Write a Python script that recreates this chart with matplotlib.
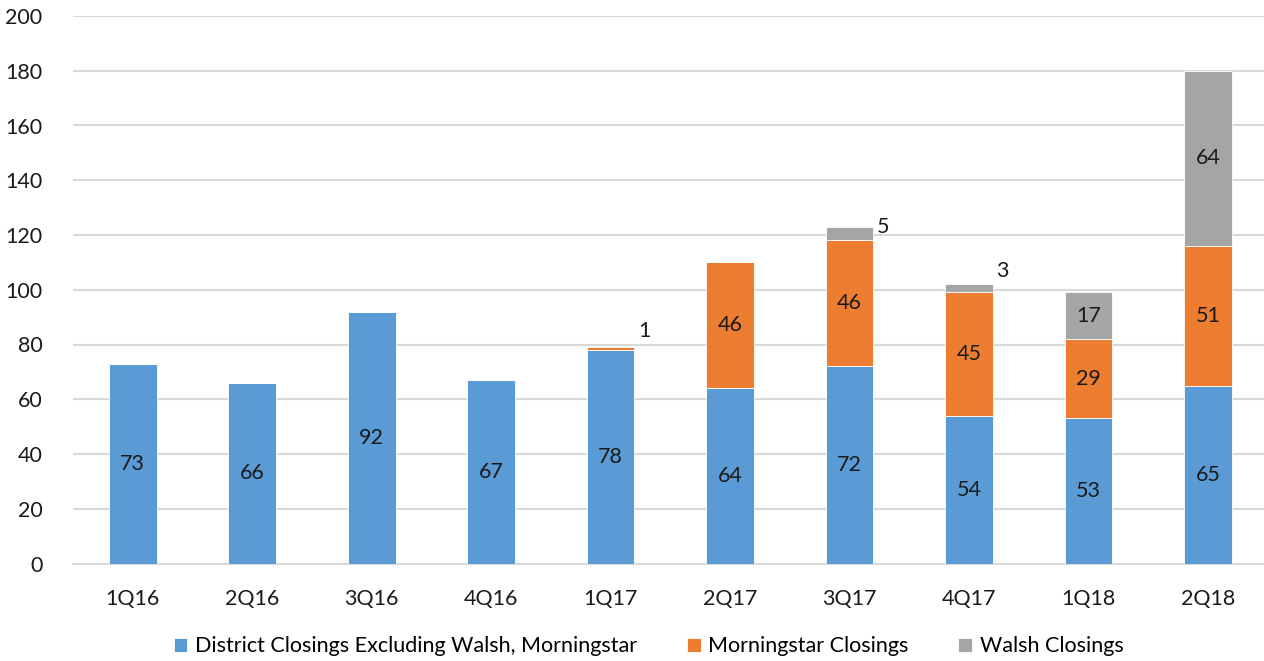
import matplotlib.pyplot as plt
import numpy as np

quarters = ['1Q16', '2Q16', '3Q16', '4Q16', '1Q17', '2Q17', '3Q17', '4Q17', '1Q18', '2Q18']
district = [73, 66, 92, 67, 78, 64, 72, 54, 53, 65]
morningstar = [0, 0, 0, 0, 1, 46, 46, 45, 29, 51]
walsh = [0, 0, 0, 0, 0, 0, 5, 3, 17, 64]

series_names = ['District Closings Excluding Walsh, Morningstar',
                'Morningstar Closings', 'Walsh Closings']
colors = ['#5B9BD5', '#ED7D31', '#A5A5A5']

# vertical nudge (data units) for the small outside labels, by quarter index
small_label_lift = {4: 6, 6: 0, 7: 5}

plt.rcParams['font.family'] = ['Lato', 'DejaVu Sans']
FS = 15.5

fig = plt.figure(figsize=(12.64, 6.61), dpi=100)
ax = fig.add_axes([73 / 1264, (661 - 563.5) / 661, (1264 - 73) / 1264, 547.5 / 661])

x = np.arange(len(quarters))
width = 0.4
bottom = np.zeros(len(quarters))
for vals, name, c in zip([district, morningstar, walsh], series_names, colors):
    vals = np.array(vals, dtype=float)
    ax.bar(x, vals, width, bottom=bottom, color=c, label=name,
           edgecolor='white', linewidth=0.6, zorder=3)
    for i, v in enumerate(vals):
        if v >= 10:
            ax.text(x[i], bottom[i] + v / 2, f'{int(v)}', ha='center', va='center',
                    fontsize=FS, color='#1a1a1a', zorder=4)
        elif v > 0:
            # small segments labelled beside the bar top
            ax.text(x[i] + width / 2 + 0.03, bottom[i] + v + small_label_lift.get(i, 4),
                    f'{int(v)}', ha='left', va='center', fontsize=FS,
                    color='#1a1a1a', zorder=4)
    bottom += vals

ax.set_ylim(0, 200)
ax.set_xlim(-0.5, 9.47)
ax.set_yticks(range(0, 201, 20))
ax.set_xticks(x)
ax.set_xticklabels(quarters)
ax.tick_params(axis='both', length=0, labelsize=FS, colors='#1a1a1a')
ax.tick_params(axis='y', pad=22)
ax.tick_params(axis='x', pad=18)
ax.grid(axis='y', color='#D9D9D9', linewidth=1.5, zorder=0)
for s in ['top', 'right', 'left']:
    ax.spines[s].set_visible(False)
ax.spines['bottom'].set_color('#D9D9D9')
ax.spines['bottom'].set_linewidth(1.5)

fig.legend(loc='center', bbox_to_anchor=(0.513, 0.022), ncol=3, frameon=False,
           fontsize=FS, handlelength=0.65, handleheight=0.65, handletextpad=0.35,
           columnspacing=2.3)

fig.savefig('out.png', dpi=100)
